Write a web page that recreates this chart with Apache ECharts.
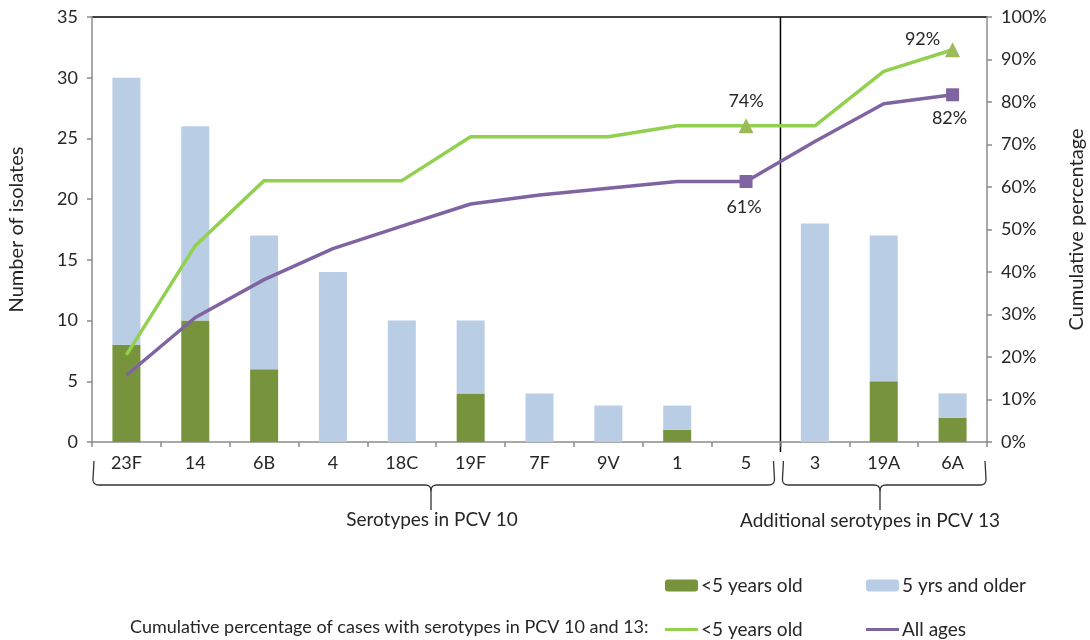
<!DOCTYPE html>
<html>
<head>
<meta charset="utf-8">
<script src="https://cdn.jsdelivr.net/npm/echarts@6/dist/echarts.min.js"></script>
<style>
  html, body { margin: 0; padding: 0; background: #fff; }
  #chart { width: 1090px; height: 640px; }
</style>
</head>
<body>
<div id="chart"></div>
<script>
// serotypes, PCV 10 first then the extra ones in PCV 13
var serotypes = ['23F', '14', '6B', '4', '18C', '19F', '7F', '9V', '1', '5', '3', '19A', '6A'];
var pcv10Count = 10;

// number of isolates
var under5 = [8, 10, 6, 0, 0, 4, 0, 0, 1, 0, 0, 5, 2];
var over5 = [22, 16, 11, 14, 10, 6, 4, 3, 2, 0, 18, 12, 2];

// cumulative percentage (%)
var cumUnder5 = [20.5, 46.2, 61.5, 61.5, 61.5, 71.8, 71.8, 71.8, 74.4, 74.4, 74.4, 87.2, 92.3];
var cumAll = [15.7, 29.3, 38.2, 45.5, 50.8, 56.0, 58.1, 59.7, 61.3, 61.3, 70.7, 79.6, 81.7];

// points that get a marker + label
var markedIdx = [9, 12];

var leftTicks = { min: 0, max: 35, interval: 5 };
var rightTicks = { min: 0, max: 100, interval: 10 };

var FONT = 'Lato';
var TXT = '#262626';
var AXIS = '#8c8c8c';

var names = {
  barU5: '<5 years old',
  barO5: '5 yrs and older',
  lineU5: '<5 years old',
  lineAll: 'All ages'
};

function markedData(vals, symbol, size, color, labelPos) {
  return vals.map(function (v, i) {
    if (markedIdx.indexOf(i) < 0) return v;
    return {
      value: v,
      symbol: symbol,
      symbolSize: size,
      itemStyle: { color: color },
      label: {
        show: true,
        position: labelPos[i].pos,
        offset: labelPos[i].off,
        distance: 8,
        formatter: function (p) { return Math.round(p.value) + '%'; },
        color: TXT, fontFamily: FONT, fontSize: 18
      }
    };
  });
}

var chart = echarts.init(document.getElementById('chart'));

var legendText = { color: TXT, fontFamily: FONT, fontSize: 19, padding: [0, 0, 0, -2] };
function fmt(n) { return names[n]; }

var option = {
  animation: false,
  grid: { left: 92, right: 103, top: 17, bottom: 198, outerBoundsMode: 'none' },
  legend: [
    { data: ['barU5'], left: 660, top: 571, itemWidth: 33, itemHeight: 12, formatter: fmt, textStyle: legendText },
    { data: ['barO5'], left: 861, top: 571, itemWidth: 33, itemHeight: 12, formatter: fmt, textStyle: legendText },
    { data: ['lineU5'], left: 660, top: 615, itemWidth: 33, itemHeight: 3, icon: 'rect', formatter: fmt, textStyle: legendText },
    { data: ['lineAll'], left: 861, top: 615, itemWidth: 33, itemHeight: 3, icon: 'rect', formatter: fmt, textStyle: legendText }
  ],
  xAxis: {
    type: 'category',
    data: serotypes,
    boundaryGap: true,
    axisLine: { lineStyle: { color: AXIS, width: 1.5 } },
    axisTick: { show: true, length: 5, lineStyle: { color: AXIS, width: 1.5 } },
    axisLabel: { color: TXT, fontFamily: FONT, fontSize: 18, margin: 12 }
  },
  yAxis: [
    {
      type: 'value',
      min: leftTicks.min, max: leftTicks.max, interval: leftTicks.interval,
      name: 'Number of isolates',
      nameLocation: 'middle',
      nameGap: 65,
      nameTextStyle: { color: TXT, fontFamily: FONT, fontSize: 20 },
      axisLine: { show: true, lineStyle: { color: AXIS, width: 1.5 } },
      axisTick: { show: true, length: 5, lineStyle: { color: AXIS, width: 1.5 } },
      axisLabel: { color: TXT, fontFamily: FONT, fontSize: 18, margin: 14 },
      splitLine: { show: false }
    },
    {
      type: 'value',
      min: rightTicks.min, max: rightTicks.max, interval: rightTicks.interval,
      position: 'right',
      name: 'Cumulative percentage',
      nameLocation: 'middle',
      nameGap: 80,
      nameTextStyle: { color: TXT, fontFamily: FONT, fontSize: 20 },
      axisLine: { show: true, lineStyle: { color: AXIS, width: 1.5 } },
      axisTick: { show: true, length: 5, lineStyle: { color: AXIS, width: 1.5 } },
      axisLabel: { color: TXT, fontFamily: FONT, fontSize: 18, margin: 14, formatter: '{value}%' },
      splitLine: { show: false }
    }
  ],
  series: [
    {
      name: 'barU5', type: 'bar', stack: 'n', barWidth: 28,
      data: under5, itemStyle: { color: '#77933C' }
    },
    {
      name: 'barO5', type: 'bar', stack: 'n', barWidth: 28,
      data: over5, itemStyle: { color: '#B9CDE5' }
    },
    {
      name: 'lineU5', type: 'line', yAxisIndex: 1, symbol: 'none', z: 5,
      lineStyle: { color: '#92D050', width: 3.5 },
      itemStyle: { color: '#92D050' },
      data: markedData(cumUnder5, 'triangle', 15, '#9BBB59', {
        9: { pos: 'top', off: [0, 0] },
        12: { pos: 'top', off: [-30, 14] }
      })
    },
    {
      name: 'lineAll', type: 'line', yAxisIndex: 1, symbol: 'none', z: 6,
      lineStyle: { color: '#8064A2', width: 3.5 },
      itemStyle: { color: '#8064A2' },
      data: markedData(cumAll, 'rect', 13, '#8064A2', {
        9: { pos: 'bottom', off: [-2, 2] },
        12: { pos: 'bottom', off: [-3, 0] }
      })
    }
  ]
};

chart.setOption(option);

// top border, separator line and braces under the category axis
var xs = serotypes.map(function (s) { return chart.convertToPixel({ xAxisIndex: 0 }, s); });
var band = xs[1] - xs[0];
var yTop = chart.convertToPixel({ yAxisIndex: 0 }, leftTicks.max);
var yBase = chart.convertToPixel({ yAxisIndex: 0 }, 0);
var xLeft = xs[0] - band / 2;
var xSplit = (xs[pcv10Count - 1] + xs[pcv10Count]) / 2;
var xRight = xs[xs.length - 1] + band / 2;

function quad(pts, p0, c, p1) {
  for (var t = 0.1; t <= 1.0001; t += 0.1) {
    var a = (1 - t) * (1 - t), b = 2 * (1 - t) * t, d = t * t;
    pts.push([a * p0[0] + b * c[0] + d * p1[0], a * p0[1] + b * c[1] + d * p1[1]]);
  }
}

function brace(x1, x2, xm, y) {
  var yh = y + 24, yt = y + 49, r = 6;
  var pts = [[x1 + 1, y], [x1, yh - r]];
  quad(pts, [x1, yh - r], [x1, yh], [x1 + r, yh]);
  pts.push([xm - r, yh]);
  quad(pts, [xm - r, yh], [xm, yh], [xm, yh + r]);
  pts.push([xm, yt]);
  var right = [[x2 - 1, y], [x2, yh - r]];
  quad(right, [x2, yh - r], [x2, yh], [x2 - r, yh]);
  right.push([xm + r, yh]);
  quad(right, [xm + r, yh], [xm, yh], [xm, yh + r]);
  return [
    { type: 'polyline', shape: { points: pts }, style: { fill: null, stroke: '#333', lineWidth: 1.3 } },
    { type: 'polyline', shape: { points: right }, style: { fill: null, stroke: '#333', lineWidth: 1.3 } }
  ];
}

function label(text, x, y) {
  return {
    type: 'text', x: x, y: y,
    style: { text: text, fill: TXT, font: '19px ' + FONT, align: 'center', verticalAlign: 'middle' }
  };
}

var brace1 = brace(xLeft + 1, xSplit - 6, 431, 461);
var brace2 = brace(xSplit + 2, xRight - 1, 880, 461);

chart.setOption({
  graphic: [
    {
      type: 'line',
      shape: { x1: xLeft, y1: yTop, x2: xRight, y2: yTop },
      style: { stroke: '#000', lineWidth: 1.5 }
    },
    {
      type: 'line',
      shape: { x1: xSplit, y1: yTop, x2: xSplit, y2: yBase + 10 },
      style: { stroke: '#000', lineWidth: 1.5 }
    },
    brace1[0], brace1[1], brace2[0], brace2[1],
    label('Serotypes in PCV 10', 432, 520),
    label('Additional serotypes in PCV 13', 870, 521),
    {
      type: 'text', x: 130, y: 627,
      style: { text: 'Cumulative percentage of cases with serotypes in PCV 10 and 13:', fill: TXT,
        font: '18px ' + FONT, verticalAlign: 'middle' }
    }
  ]
});
</script>
</body>
</html>
